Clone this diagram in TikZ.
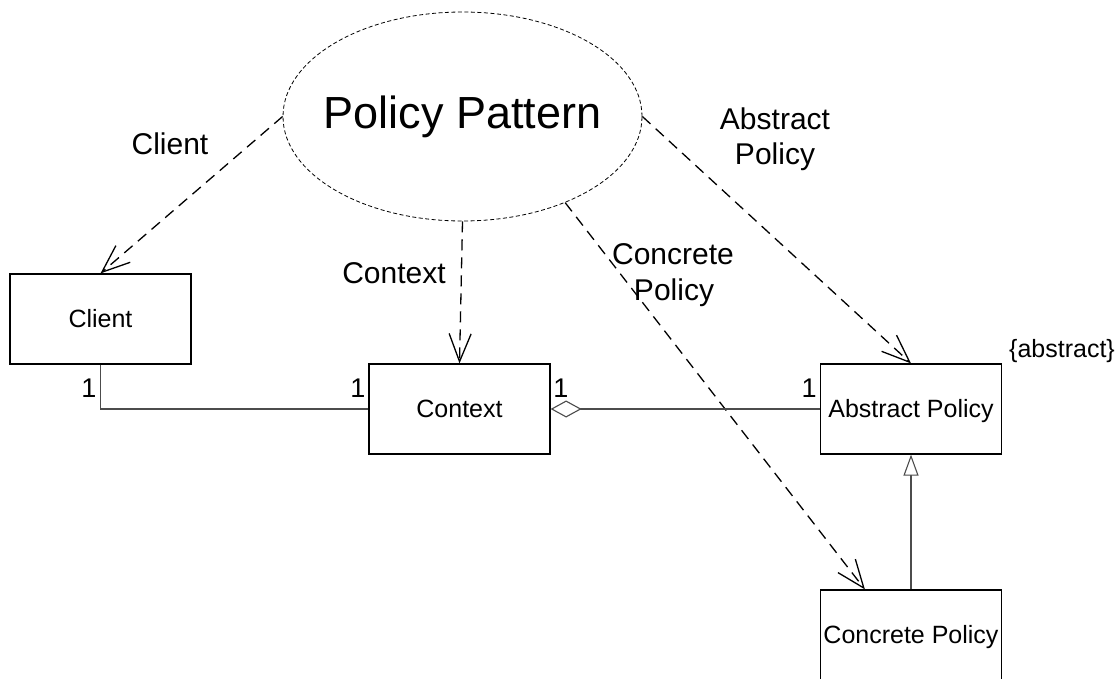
\documentclass[tikz,border=0pt]{standalone}
\usepackage{fontspec}
\setmainfont{Liberation Sans}
\usetikzlibrary{arrows.meta,shapes.geometric}

\tikzset{
  fsz/.style={font=\fontsize{#1}{#1}\selectfont},
  classbox/.style={draw=black, line width=1.2pt, rectangle, minimum width=181pt,
    minimum height=90pt, inner sep=0pt, fsz=25, text height=18pt, text depth=2pt},
  collab/.style={draw=black, line width=0.8pt, dash pattern=on 4pt off 2.5pt,
    ellipse, minimum width=359pt, minimum height=209pt, inner sep=0pt},
  collabname/.style={fsz=45, inner sep=0pt, text height=32.2pt, text depth=9pt},
  dep/.style={line width=1.3pt, dash pattern=on 11pt off 7pt,
    -{Straight Barb[length=28pt,width=22pt,line width=1.3pt]}},
  assoc/.style={draw=black!70, line width=1.1pt},
  lbl/.style={anchor=base, fsz=30, inner sep=0pt},
  mult/.style={anchor=base, fsz=27, inner sep=0pt},
}

\begin{document}
\begin{tikzpicture}[x=1pt, y=-1pt]
  \useasboundingbox (0,0) rectangle (1119,679);

  % collaboration
  \node[collab] (pp) at (462.5,116.5) {};
  \node[collabname] (ppname) at (pp.center) {Policy Pattern};

  % classes
  \node[classbox] (cl) at (100.5,319) {Client};
  \node[classbox] (cx) at (459.5,409) {Context};
  \node[classbox] (ap) at (911,409) {Abstract Policy};
  \node[classbox] (cp) at (911,635) {Concrete Policy};

  \node[anchor=base, fsz=25, inner sep=0pt] (abs) at (1062,357) {\{abstract\}};

  % role bindings
  \draw[dep] (pp.180) -- (cl.north);
  \draw[dep] (pp.270) -- (cx.north);
  \draw[dep] (pp.-40.7) -- ([xshift=45pt]cp.north west);
  \draw[dep] (pp.0.5) -- (ap.north);

  % role names
  \node[lbl] (lcl) at (170,155) {Client};
  \node[lbl] (lcx) at (394,283) {Context};
  \node[lbl] (lcp1) at (673,265) {Concrete};
  \node[lbl] (lcp2) at (674,300) {Policy};
  \node[lbl] (lap1) at (775,130) {Abstract};
  \node[lbl] (lap2) at (775,165) {Policy};

  % associations
  \draw[assoc] (cl.south) |- (cx.west);
  \draw[assoc, {Diamond[open,length=31pt,width=17pt,fill=white]}-] (cx.east) -- (ap.west);
  \draw[assoc, -{Triangle[open,length=21pt,width=15pt,fill=white]}] (cp.north) -- (ap.south);

  % multiplicities
  \node[mult] (m1) at (89,397) {1};
  \node[mult] (m2) at (358,397) {1};
  \node[mult] (m3) at (561,397) {1};
  \node[mult] (m4) at (809,397) {1};
\end{tikzpicture}
\end{document}
